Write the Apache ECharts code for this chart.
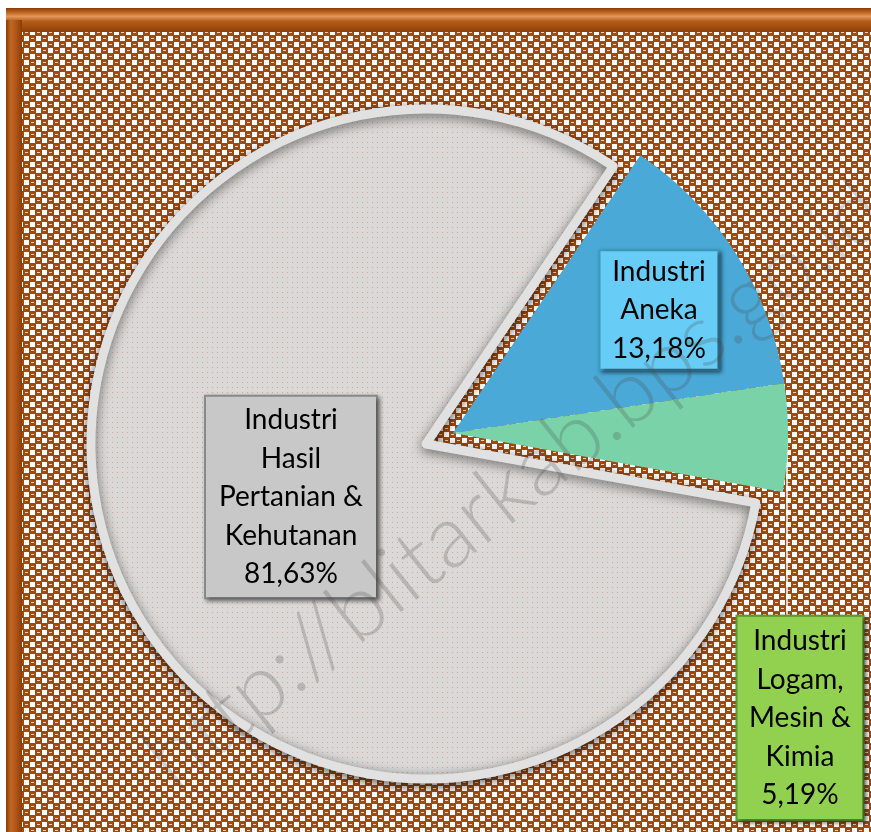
<!DOCTYPE html>
<html>
<head>
<meta charset="utf-8">
<script src="https://cdn.jsdelivr.net/npm/echarts@6/dist/echarts.min.js"></script>
<style>
html, body { margin: 0; padding: 0; background: #fff; }
#chart { width: 871px; height: 832px; }
</style>
</head>
<body>
<div id="chart"></div>
<script>
// data
var categories = ['Industri\nAneka', 'Industri\nLogam,\nMesin &\nKimia', 'Industri\nHasil\nPertanian &\nKehutanan'];
var shares = [13.18, 5.19, 81.63];
var watermarkText = 'http://blitarkab.bps.go.id';

// small canvas tiles for the office-like textures
function makeTile(size, draw) {
	var c = document.createElement('canvas');
	c.width = size;
	c.height = size;
	draw(c.getContext('2d'));
	return c;
}

var brownTile = makeTile(12, function (ctx) {
	ctx.fillStyle = '#A04A0E';
	ctx.fillRect(0, 0, 12, 12);
	ctx.fillStyle = '#FFFFFF';
	ctx.fillRect(0, 0, 5, 5);
	ctx.fillRect(6, 6, 5, 5);
	ctx.fillStyle = '#F4D2B6';
	ctx.fillRect(7, 2, 3, 1);
	ctx.fillRect(1, 8, 3, 1);
});

var greyTile = makeTile(5, function (ctx) {
	ctx.fillStyle = '#DAD9D8';
	ctx.fillRect(0, 0, 5, 5);
	ctx.fillStyle = '#D3A88E';
	ctx.fillRect(2, 2, 1, 1);
});

var sliceStyles = [
	{ color: '#4BA9D7' },
	{ color: '#7AD3A8' },
	{
		color: { image: greyTile, repeat: 'repeat' },
		borderColor: '#E1E1E1',
		borderWidth: 9,
		borderJoin: 'round',
		shadowBlur: 12,
		shadowOffsetY: 3,
		shadowColor: 'rgba(0,0,0,0.55)'
	}
];

var boxStyles = [
	{ backgroundColor: '#68CDF6', borderColor: '#3E9CC4', width: 109, padding: [1, 4] },
	{ backgroundColor: '#92D050', borderColor: '#5E9A2C', width: 117, padding: [5, 4] },
	{ backgroundColor: '#C8C8C8', borderColor: '#8E8E8E', width: 158, padding: [4, 6] }
];

// where Excel put each data label (box centre)
var labelCentres = [[659, 310], [800, 718], [291, 497]];

// the big slice is pulled out of the pie, so it gets its own series
// drawn round a shifted centre; the other slices stay hidden there
function pieData(shown) {
	return categories.map(function (name, i) {
		var on = shown.indexOf(i) >= 0;
		var box = boxStyles[i];
		return {
			name: name,
			value: shares[i],
			itemStyle: on ? sliceStyles[i] : { color: 'rgba(0,0,0,0)' },
			label: on ? {
				show: true,
				position: i === 1 ? 'outside' : 'inside',
				backgroundColor: box.backgroundColor,
				borderColor: box.borderColor,
				borderWidth: 2,
				width: box.width,
				padding: box.padding,
				shadowBlur: 4,
				shadowColor: 'rgba(0,0,0,0.45)',
				shadowOffsetX: 2,
				shadowOffsetY: 2
			} : { show: false },
			labelLine: {
				show: on && i === 1,
				lineStyle: { color: '#FFFFFF', width: 1.5 }
			}
		};
	});
}

function pieSeries(center, shown, z) {
	return {
		type: 'pie',
		z: z,
		center: center,
		radius: 335,
		startAngle: 56,
		clockwise: true,
		avoidLabelOverlap: false,
		silent: true,
		emphasis: { disabled: true },
		label: {
			formatter: function (p) {
				return p.name + '\n' + p.value.toFixed(2).replace('.', ',') + '%';
			},
			color: '#000',
			fontFamily: 'Lato',
			fontSize: 28,
			lineHeight: 38.5,
			align: 'center'
		},
		labelLayout: function (params) {
			var c = labelCentres[params.dataIndex];
			var out = { x: c[0], y: c[1], align: 'center', verticalAlign: 'middle' };
			if (params.dataIndex === 1) {
				// Excel's straight vertical leader down to the box
				out.labelLinePoints = [[787, 437], [787, 520], [787, 615]];
			}
			return out;
		},
		data: pieData(shown)
	};
}

var chart = echarts.init(document.getElementById('chart'));

chart.setOption({
	animation: false,
	graphic: [
		{
			type: 'rect', z: -20,
			shape: { x: 6, y: 8, width: 880, height: 840 },
			style: { fill: '#A24E12' }
		},
		{
			type: 'rect', z: -19,
			shape: { x: 6, y: 8, width: 880, height: 24 },
			style: {
				fill: new echarts.graphic.LinearGradient(0, 0, 0, 1, [
					{ offset: 0, color: '#8A3A06' },
					{ offset: 0.2, color: '#C46A26' },
					{ offset: 0.35, color: '#E3985A' },
					{ offset: 0.55, color: '#B65C1A' },
					{ offset: 1, color: '#8E3E08' }
				])
			}
		},
		{
			type: 'rect', z: -18,
			shape: { x: 6, y: 20, width: 16, height: 830 },
			style: {
				fill: new echarts.graphic.LinearGradient(0, 0, 1, 0, [
					{ offset: 0, color: '#8A3A06' },
					{ offset: 0.3, color: '#C26824' },
					{ offset: 0.6, color: '#B05818' },
					{ offset: 1, color: '#8C3C08' }
				])
			}
		},
		{
			type: 'rect', z: -17,
			shape: { x: 22, y: 32, width: 860, height: 810 },
			style: { fill: { image: brownTile, repeat: 'repeat' } }
		},
		{
			type: 'text', z: 100,
			x: 515, y: 485,
			rotation: 38.5 * Math.PI / 180,
			style: {
				text: watermarkText,
				fontFamily: 'Lato',
				fontSize: 88,
				fontWeight: 300,
				fill: 'rgba(70,70,70,0.24)',
				align: 'center',
				verticalAlign: 'middle'
			}
		}
	],
	series: [
		pieSeries([426, 444], [2], 2),
		pieSeries([453, 433], [0, 1], 3)
	]
});
</script>
</body>
</html>
